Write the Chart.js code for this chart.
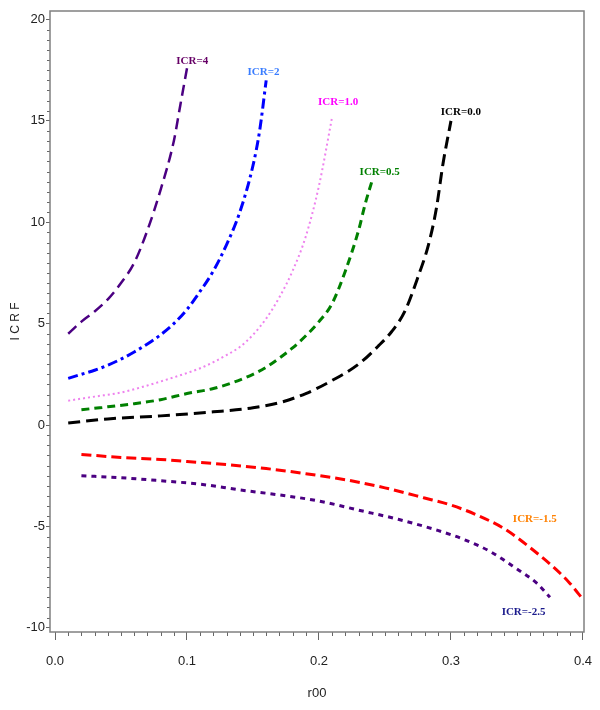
<!DOCTYPE html>
<html>
<head>
<meta charset="utf-8">
<script src="https://cdn.jsdelivr.net/npm/chart.js@4.4.1/dist/chart.umd.min.js"></script>
<style>
  html, body { margin: 0; padding: 0; background: #fff; }
</style>
</head>
<body>
<canvas id="chart" width="600" height="710"></canvas>
<script>
// values
const r0Icr4 = [0.01, 0.02, 0.03, 0.04, 0.05, 0.06, 0.07, 0.08, 0.09, 0.095, 0.1];
const icrfIcr4 = [4.5, 5.1, 5.6, 6.2, 7.0, 8.0, 9.6, 11.6, 14.0, 15.8, 17.6];

const r0Icr2 = [0.01, 0.02, 0.03, 0.04, 0.05, 0.06, 0.07, 0.08, 0.09, 0.1, 0.11, 0.12, 0.13, 0.14, 0.15, 0.155, 0.16];
const icrfIcr2 = [2.3, 2.5, 2.7, 2.95, 3.25, 3.6, 4.0, 4.45, 5.0, 5.7, 6.6, 7.6, 8.9, 10.5, 12.8, 14.5, 17.0];

const r0Icr10 = [0.01, 0.03, 0.05, 0.07, 0.09, 0.11, 0.12, 0.13, 0.14, 0.15, 0.16, 0.17, 0.18, 0.19, 0.2, 0.21];
const icrfIcr10 = [1.2, 1.4, 1.6, 1.95, 2.35, 2.8, 3.1, 3.45, 3.85, 4.45, 5.25, 6.3, 7.6, 9.3, 11.8, 15.2];

const r0Icr05 = [0.02, 0.04, 0.06, 0.08, 0.1, 0.12, 0.135, 0.15, 0.16, 0.17, 0.18, 0.19, 0.2, 0.21, 0.22, 0.23, 0.235, 0.24];
const icrfIcr05 = [0.75, 0.9, 1.05, 1.25, 1.55, 1.8, 2.1, 2.5, 2.85, 3.3, 3.8, 4.4, 5.1, 6.0, 7.6, 9.6, 10.9, 12.0];

const r0Icr00 = [0.01, 0.04, 0.08, 0.12, 0.15, 0.17, 0.19, 0.21, 0.23, 0.245, 0.255, 0.265, 0.275, 0.283, 0.289, 0.294, 0.3];
const icrfIcr00 = [0.1, 0.3, 0.45, 0.65, 0.85, 1.1, 1.55, 2.2, 3.0, 3.9, 4.6, 5.6, 7.3, 8.9, 10.7, 12.9, 15.0];

const r0IcrM15 = [0.02, 0.05, 0.08, 0.1, 0.13, 0.16, 0.19, 0.22, 0.25, 0.28, 0.3, 0.32, 0.34, 0.36, 0.38, 0.39, 0.4];
const icrfIcrM15 = [-1.45, -1.6, -1.7, -1.8, -1.95, -2.15, -2.4, -2.7, -3.1, -3.6, -3.95, -4.45, -5.1, -6.05, -7.15, -7.8, -8.6];

const r0IcrM25 = [0.02, 0.05, 0.08, 0.11, 0.14, 0.17, 0.2, 0.23, 0.26, 0.29, 0.31, 0.33, 0.35, 0.365, 0.375];
const icrfIcrM25 = [-2.5, -2.6, -2.75, -2.92, -3.2, -3.45, -3.75, -4.2, -4.65, -5.2, -5.65, -6.25, -7.1, -7.8, -8.5];

const xTicks = [0.0, 0.1, 0.2, 0.3, 0.4];
const yTicks = [-10, -5, 0, 5, 10, 15, 20];

// curve labels, placed in data units
const curveLabels = [
    { text: 'ICR=4', x: 0.104, y: 17.95, color: '#660066' },
    { text: 'ICR=2', x: 0.158, y: 17.4, color: '#3a7dff' },
    { text: 'ICR=1.0', x: 0.2145, y: 15.9, color: '#ff00ff' },
    { text: 'ICR=0.0', x: 0.3075, y: 15.45, color: '#000000' },
    { text: 'ICR=0.5', x: 0.246, y: 12.45, color: '#008000' },
    { text: 'ICR=-1.5', x: 0.3635, y: -4.65, color: '#ff8000' },
    { text: 'ICR=-2.5', x: 0.355, y: -9.25, color: '#1a1a8c' }
];

const series = [
    { label: 'ICR=4', xs: r0Icr4, ys: icrfIcr4, color: '#4b0082', dash: [11, 6], width: 2.5 },
    { label: 'ICR=2', xs: r0Icr2, ys: icrfIcr2, color: '#0000ff', dash: [10, 4, 3, 4], width: 3 },
    { label: 'ICR=1.0', xs: r0Icr10, ys: icrfIcr10, color: '#ee82ee', dash: [2, 3], width: 2 },
    { label: 'ICR=0.5', xs: r0Icr05, ys: icrfIcr05, color: '#008000', dash: [8, 5], width: 3 },
    { label: 'ICR=0.0', xs: r0Icr00, ys: icrfIcr00, color: '#000000', dash: [12, 6], width: 3 },
    { label: 'ICR=-1.5', xs: r0IcrM15, ys: icrfIcrM15, color: '#ff0000', dash: [10, 5], width: 3 },
    { label: 'ICR=-2.5', xs: r0IcrM25, ys: icrfIcrM25, color: '#4b0082', dash: [5, 5], width: 3 }
];

const datasets = series.map(s => ({
    label: s.label,
    data: s.xs.map((x, i) => ({ x, y: s.ys[i] })),
    borderColor: s.color,
    borderWidth: s.width,
    borderDash: s.dash,
    borderCapStyle: 'butt',
    cubicInterpolationMode: 'monotone',
    pointRadius: 0,
    fill: false
}));

// box, minor ticks and curve labels
const decorations = {
    id: 'decorations',
    afterDraw(chart) {
        const { ctx, chartArea, scales } = chart;
        const xs = scales.x, ys = scales.y;
        ctx.save();
        ctx.strokeStyle = '#666';
        ctx.lineWidth = 1;
        for (let v = -10; v <= 20; v += 0.5) {
            if (v % 5 === 0) continue;
            const py = Math.round(ys.getPixelForValue(v)) + 0.5;
            ctx.beginPath();
            ctx.moveTo(chartArea.left - 3, py);
            ctx.lineTo(chartArea.left, py);
            ctx.stroke();
        }
        for (let i = 0; i <= 40; i++) {
            if (i % 10 === 0) continue;
            const px = Math.round(xs.getPixelForValue(i / 100)) + 0.5;
            ctx.beginPath();
            ctx.moveTo(px, chartArea.bottom);
            ctx.lineTo(px, chartArea.bottom + 4);
            ctx.stroke();
        }
        ctx.strokeStyle = '#808080';
        ctx.lineWidth = 1.5;
        ctx.strokeRect(chartArea.left, chartArea.top, chartArea.right - chartArea.left, chartArea.bottom - chartArea.top);

        ctx.font = 'bold 11px "Liberation Serif", "Times New Roman", serif';
        ctx.textAlign = 'center';
        ctx.textBaseline = 'middle';
        curveLabels.forEach(l => {
            ctx.fillStyle = l.color;
            ctx.fillText(l.text, xs.getPixelForValue(l.x), ys.getPixelForValue(l.y));
        });
        ctx.restore();
    }
};

new Chart(document.getElementById('chart'), {
    type: 'line',
    data: { datasets },
    options: {
        responsive: false,
        animation: false,
        layout: { padding: { top: 11, right: 16, left: 0, bottom: 0 } },
        plugins: {
            legend: { display: false },
            tooltip: { enabled: false }
        },
        scales: {
            x: {
                type: 'linear',
                min: -0.0038,
                max: 0.4008,
                afterBuildTicks: scale => { scale.ticks = xTicks.map(v => ({ value: v })); },
                afterFit: scale => {
                    scale.height = 78;
                    scale.paddingLeft = 0;
                    scale.paddingRight = 0;
                },
                ticks: {
                    color: '#222',
                    font: { family: '"Liberation Sans", Arial, sans-serif', size: 13 },
                    padding: 14,
                    maxRotation: 0,
                    callback: v => v.toFixed(1)
                },
                grid: { drawOnChartArea: false, tickLength: 8, tickColor: '#666' },
                border: { display: false },
                title: {
                    display: true,
                    text: 'r00',
                    color: '#222',
                    font: { family: '"Liberation Sans", Arial, sans-serif', size: 13 },
                    padding: { top: 0, bottom: 9 }
                }
            },
            y: {
                type: 'linear',
                min: -10.21,
                max: 20.42,
                afterBuildTicks: scale => { scale.ticks = yTicks.map(v => ({ value: v })); },
                afterFit: scale => { scale.width = 50; },
                ticks: {
                    color: '#222',
                    font: { family: '"Liberation Sans", Arial, sans-serif', size: 13 },
                    padding: 1
                },
                grid: { drawOnChartArea: false, tickLength: 4, tickColor: '#666' },
                border: { display: false },
                title: {
                    display: true,
                    text: 'I C R F',
                    color: '#222',
                    font: { family: '"Liberation Sans", Arial, sans-serif', size: 12 },
                    padding: { top: 8, bottom: 0 }
                }
            }
        }
    },
    plugins: [decorations]
});
</script>
</body>
</html>
